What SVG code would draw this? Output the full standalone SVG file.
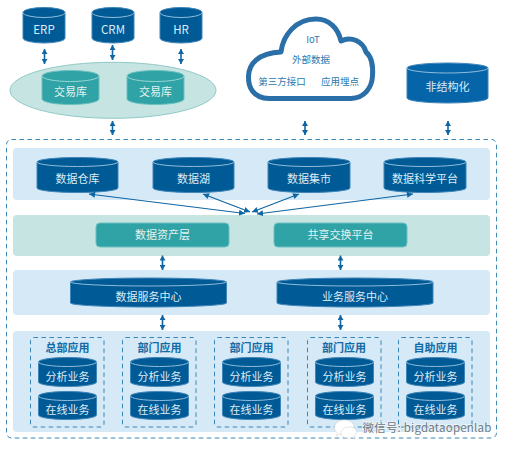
<svg xmlns="http://www.w3.org/2000/svg" width="507" height="452" viewBox="0 0 507 452">
<style>
text{font-family:"Noto Sans CJK SC","Noto Sans",sans-serif;text-anchor:middle}
.b{fill:#d5e9f7}
.g{fill:#c6e4e1}
.c{fill:#005a96;stroke:#3f85b8;stroke-width:1}
.cb{fill:#0665a8;stroke:#3f85b8;stroke-width:1}
.l{fill:none;stroke:#8fbcdc;stroke-width:1}
.t{fill:#dcecf6;font-size:11px}
.tl{fill:#dcecf6;font-size:11.500px}
.tt{fill:#e3f3f2;font-size:11px}
.cg{fill:#2fa3a6;stroke:#6cc0c0;stroke-width:1}
.d{fill:none;stroke:#3a86b8;stroke-width:1;stroke-dasharray:4.5 3.5}
.h{fill:#136ba6;font-size:11px;font-weight:700}
.o{fill:#2c78ad;font-size:9.500px}
.a{stroke:#0f66a3;stroke-width:1.2;fill:none;marker-start:url(#s);marker-end:url(#e)}
.v{stroke:#0f66a3;stroke-width:1.6;fill:none;marker-start:url(#s2);marker-end:url(#e2)}
</style>
<defs>
<marker id="e" markerWidth="7" markerHeight="6" refX="6" refY="3" orient="auto" markerUnits="userSpaceOnUse"><path d="M0 0L6 3L0 6z" fill="#0f66a3"/></marker>
<marker id="s" markerWidth="7" markerHeight="6" refX="0" refY="3" orient="auto" markerUnits="userSpaceOnUse"><path d="M6 0L0 3L6 6z" fill="#0f66a3"/></marker>
<marker id="e2" markerWidth="7" markerHeight="6" refX="5" refY="3" orient="auto" markerUnits="userSpaceOnUse"><path d="M0 0L5 3L0 6z" fill="#0f66a3"/></marker>
<marker id="s2" markerWidth="7" markerHeight="6" refX="0" refY="3" orient="auto" markerUnits="userSpaceOnUse"><path d="M5 0L0 3L5 6z" fill="#0f66a3"/></marker>
</defs>
<rect width="507" height="452" fill="#fff"/>
<g id="outer-frame"><rect x="6.500" y="139.500" width="490" height="298.500" rx="5" class="d"/></g>
<g id="bands">
<rect x="13" y="148" width="477" height="52" rx="4" class="b"/>
<rect x="13" y="215" width="477" height="41" rx="4" class="g"/>
<rect x="13" y="270" width="477" height="45" rx="4" class="b"/>
<rect x="13" y="331" width="477" height="101" rx="4" class="b"/>
</g>
<g id="erp"><path class="c" d="M23 12.500a21 5 0 0 1 42 0V38a21 5 0 0 1-42 0z"/><path class="l" d="M23 12.500a21 5 0 0 0 42 0"/><text class="tl" x="44" y="33.500">ERP</text></g>
<g id="crm"><path class="c" d="M92 12.500a21 5 0 0 1 42 0V38a21 5 0 0 1-42 0z"/><path class="l" d="M92 12.500a21 5 0 0 0 42 0"/><text class="tl" x="113" y="33.500">CRM</text></g>
<g id="hr"><path class="c" d="M160 12.500a21 5 0 0 1 42 0V38a21 5 0 0 1-42 0z"/><path class="l" d="M160 12.500a21 5 0 0 0 42 0"/><text class="tl" x="181" y="33.500">HR</text></g>
<g id="tx-pool"><ellipse cx="113" cy="90.300" rx="103" ry="28" fill="#c6e4e1" stroke="#8fcac6"/>
<path class="cg" d="M42 76a28.500 5.500 0 0 1 57 0V99a28.500 5.500 0 0 1-57 0z" stroke="none"/><path d="M42 76a28.500 5.500 0 0 0 57 0" fill="none" stroke="#9ad5d3"/><text class="tt" x="70.500" y="96">交易库</text>
<path class="cg" d="M127 76a28.500 5.500 0 0 1 57 0V99a28.500 5.500 0 0 1-57 0z" stroke="none"/><path d="M127 76a28.500 5.500 0 0 0 57 0" fill="none" stroke="#9ad5d3"/><text class="tt" x="155.500" y="96">交易库</text></g>
<g id="cloud"><path d="M269 98.500C253 98 248 87 248.500 76C249 64 258 53 281 52C283 35 296 19 316 19C329 19 338 28 341 41C351 36 363 41 366 52C373 58 373 69 372.500 76C372 88 364 98 351 98.500z" fill="#fff" stroke="#2a6fa8" stroke-width="5" stroke-linejoin="round"/>
<text class="o" x="313" y="43">IoT</text><text class="o" x="311" y="63">外部数据</text><text class="o" x="282" y="84.500">第三方接口</text><text class="o" x="340" y="84.500">应用埋点</text></g>
<g id="unstructured"><path class="cb" d="M407 68a40.500 5 0 0 1 81 0V98a40.500 5 0 0 1-81 0z"/><path class="l" d="M407 68a40.500 5 0 0 0 81 0"/><text class="t" x="447.500" y="91">非结构化</text></g>
<g id="dw"><path class="c" d="M37 162a40.500 4.500 0 0 1 81 0V188a40.500 4.500 0 0 1-81 0z"/><path class="l" d="M37 162a40.500 4.500 0 0 0 81 0"/><text class="t" x="77.500" y="183">数据仓库</text></g>
<g id="lake"><path class="c" d="M153 162a40.500 4.500 0 0 1 81 0V188a40.500 4.500 0 0 1-81 0z"/><path class="l" d="M153 162a40.500 4.500 0 0 0 81 0"/><text class="t" x="193.500" y="183">数据湖</text></g>
<g id="mart"><path class="c" d="M268 162a41 4.500 0 0 1 82 0V188a41 4.500 0 0 1-82 0z"/><path class="l" d="M268 162a41 4.500 0 0 0 82 0"/><text class="t" x="309" y="183">数据集市</text></g>
<g id="ds"><path class="c" d="M384 162a41 4.500 0 0 1 82 0V188a41 4.500 0 0 1-82 0z"/><path class="l" d="M384 162a41 4.500 0 0 0 82 0"/><text class="t" x="425" y="183">数据科学平台</text></g>
<g id="asset"><rect x="96" y="223" width="133" height="24" rx="4" class="cg"/><text class="tt" x="162.500" y="239">数据资产层</text></g>
<g id="share"><rect x="274" y="223" width="133" height="24" rx="4" class="cg"/><text class="tt" x="340.500" y="239">共享交换平台</text></g>
<g id="data-svc"><path class="c" d="M70.500 282a78 4 0 0 1 156 0V303a78 4 0 0 1-156 0z"/><path class="l" d="M70.500 282a78 4 0 0 0 156 0"/><text class="t" x="148.500" y="301">数据服务中心</text></g>
<g id="biz-svc"><path class="c" d="M277 282a78 4 0 0 1 156 0V303a78 4 0 0 1-156 0z"/><path class="l" d="M277 282a78 4 0 0 0 156 0"/><text class="t" x="355" y="301">业务服务中心</text></g>
<g id="app1"><rect x="30.500" y="337.500" width="73.500" height="89.500" rx="3" class="d"/><text class="h" x="67.500" y="352">总部应用</text>
<path class="c" d="M38.500 362a29 4.500 0 0 1 58 0V382a29 4.500 0 0 1-58 0z"/><path class="l" d="M38.500 362a29 4.500 0 0 0 58 0"/><text class="t" x="67.500" y="381">分析业务</text>
<path class="c" d="M38.500 396a29 4.500 0 0 1 58 0V415a29 4.500 0 0 1-58 0z"/><path class="l" d="M38.500 396a29 4.500 0 0 0 58 0"/><text class="t" x="67.500" y="414">在线业务</text></g>
<g id="app2"><rect x="122.500" y="337.500" width="73.500" height="89.500" rx="3" class="d"/><text class="h" x="159.500" y="352">部门应用</text>
<path class="c" d="M130.500 362a29 4.500 0 0 1 58 0V382a29 4.500 0 0 1-58 0z"/><path class="l" d="M130.500 362a29 4.500 0 0 0 58 0"/><text class="t" x="159.500" y="381">分析业务</text>
<path class="c" d="M130.500 396a29 4.500 0 0 1 58 0V415a29 4.500 0 0 1-58 0z"/><path class="l" d="M130.500 396a29 4.500 0 0 0 58 0"/><text class="t" x="159.500" y="414">在线业务</text></g>
<g id="app3"><rect x="214.500" y="337.500" width="73.500" height="89.500" rx="3" class="d"/><text class="h" x="251.500" y="352">部门应用</text>
<path class="c" d="M222.500 362a29 4.500 0 0 1 58 0V382a29 4.500 0 0 1-58 0z"/><path class="l" d="M222.500 362a29 4.500 0 0 0 58 0"/><text class="t" x="251.500" y="381">分析业务</text>
<path class="c" d="M222.500 396a29 4.500 0 0 1 58 0V415a29 4.500 0 0 1-58 0z"/><path class="l" d="M222.500 396a29 4.500 0 0 0 58 0"/><text class="t" x="251.500" y="414">在线业务</text></g>
<g id="app4"><rect x="307.500" y="337.500" width="73.500" height="89.500" rx="3" class="d"/><text class="h" x="344" y="352">部门应用</text>
<path class="c" d="M315.500 362a29 4.500 0 0 1 58 0V382a29 4.500 0 0 1-58 0z"/><path class="l" d="M315.500 362a29 4.500 0 0 0 58 0"/><text class="t" x="344.500" y="381">分析业务</text>
<path class="c" d="M315.500 396a29 4.500 0 0 1 58 0V415a29 4.500 0 0 1-58 0z"/><path class="l" d="M315.500 396a29 4.500 0 0 0 58 0"/><text class="t" x="344.500" y="414">在线业务</text></g>
<g id="app5"><rect x="398.500" y="337.500" width="73.500" height="89.500" rx="3" class="d"/><text class="h" x="435.500" y="352">自助应用</text>
<path class="c" d="M406.500 362a29 4.500 0 0 1 58 0V382a29 4.500 0 0 1-58 0z"/><path class="l" d="M406.500 362a29 4.500 0 0 0 58 0"/><text class="t" x="435.500" y="381">分析业务</text>
<path class="c" d="M406.500 396a29 4.500 0 0 1 58 0V415a29 4.500 0 0 1-58 0z"/><path class="l" d="M406.500 396a29 4.500 0 0 0 58 0"/><text class="t" x="435.500" y="414">在线业务</text></g>
<g id="connectors">
<path class="v" d="M44.500 49V64"/><path class="v" d="M112.500 45V60"/><path class="v" d="M181 49V64"/><path class="v" d="M112.500 121V135"/><path class="v" d="M305 121V135"/><path class="v" d="M448 121V135"/>
<path class="v" d="M162.500 255.500V270"/><path class="v" d="M340.500 255.500V270"/><path class="v" d="M162.500 315V330"/><path class="v" d="M340.500 315V330"/>
<path class="a" d="M89 194L245 213.500"/><path class="a" d="M203 194L250 212"/><path class="a" d="M299 194L252 212"/><path class="a" d="M413 194L257 214"/>
</g>
<g id="watermark">
<path d="M344 420c-6 0-9.500 4-9.500 8c0 2 1 4 3 5l-1 3l3-2c2 1 3 1 4.500 1c6 0 10-4 10-8s-4-7-10-7z" fill="#fff" stroke="#c4c8cc" stroke-width=".5"/>
<path d="M349 427c-5 0-8 3-8 6s3 5 8 5c1 0 2 0 3-1l3 2l-1-3c2-1 2.500-2 2.500-4c0-3-2.500-5-7.500-5z" fill="#fff" stroke="#c4c8cc" stroke-width=".5"/>
<text x="427" y="432" style="font-size:11.500px;fill:#fff;stroke:#fff;stroke-width:2;opacity:.5;letter-spacing:.2px">微信号: bigdataopenlab</text>
<text x="427" y="432" style="font-size:11.500px;fill:#6f7a82;letter-spacing:.2px">微信号: bigdataopenlab</text>
</g>
</svg>
